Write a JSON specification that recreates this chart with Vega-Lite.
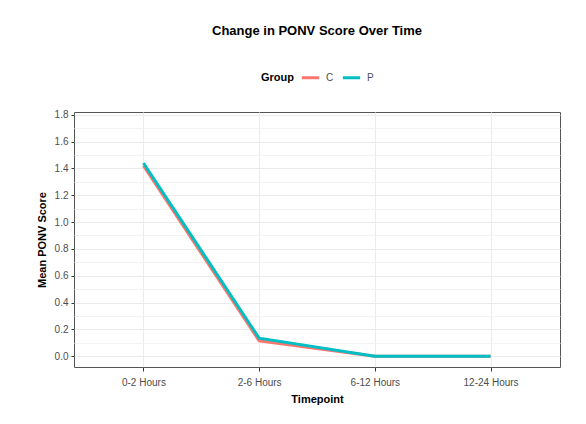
{
  "$schema": "https://vega.github.io/schema/vega-lite/v6.json",
  "width": 486,
  "height": 255,
  "padding": {"left": 36, "top": 25, "right": 25, "bottom": 10},
  "background": "white",
  "title": {
    "text": "Change in PONV Score Over Time",
    "font": "Liberation Sans",
    "fontSize": 13,
    "fontWeight": "bold",
    "color": "#000000",
    "anchor": "middle",
    "frame": "group",
    "offset": 29
  },
  "data": {
    "values": [
      {"Timepoint": "0-2 Hours", "Group": "C", "Score": 1.42},
      {"Timepoint": "2-6 Hours", "Group": "C", "Score": 0.115},
      {"Timepoint": "6-12 Hours", "Group": "C", "Score": 0.0},
      {"Timepoint": "12-24 Hours", "Group": "C", "Score": 0.0},
      {"Timepoint": "0-2 Hours", "Group": "P", "Score": 1.44},
      {"Timepoint": "2-6 Hours", "Group": "P", "Score": 0.135},
      {"Timepoint": "6-12 Hours", "Group": "P", "Score": 0.0},
      {"Timepoint": "12-24 Hours", "Group": "P", "Score": 0.0}
    ]
  },
  "mark": {"type": "line", "strokeWidth": 3},
  "encoding": {
    "x": {
      "field": "Timepoint",
      "type": "ordinal",
      "sort": ["0-2 Hours", "2-6 Hours", "6-12 Hours", "12-24 Hours"],
      "scale": {"type": "point", "padding": 0.6},
      "axis": {
        "title": "Timepoint",
        "labelAngle": 0,
        "grid": true,
        "gridColor": "#EBEBEB",
        "gridWidth": 1,
        "domain": false,
        "tickSize": 4,
        "tickColor": "#333333",
        "labelPadding": 6,
        "labelFont": "Liberation Sans",
        "labelFontSize": 10,
        "labelColor": "#4D4D4D",
        "titleFont": "Liberation Sans",
        "titleFontSize": 11,
        "titleFontWeight": "bold",
        "titleColor": "#000000",
        "titlePadding": 6
      }
    },
    "y": {
      "field": "Score",
      "type": "quantitative",
      "scale": {"domain": [-0.08, 1.82], "nice": false, "zero": false},
      "axis": {
        "title": "Mean PONV Score",
        "values": [0, 0.1, 0.2, 0.3, 0.4, 0.5, 0.6, 0.7, 0.8, 0.9, 1.0, 1.1, 1.2, 1.3, 1.4, 1.5, 1.6, 1.7, 1.8],
        "labelExpr": "round(datum.value*10) % 2 == 1 ? '' : format(datum.value, '.1f')",
        "grid": true,
        "gridColor": {"condition": {"test": "round(datum.value*10) % 2 == 1", "value": "#F3F3F3"}, "value": "#EBEBEB"},
        "gridWidth": 1,
        "tickOpacity": {"condition": {"test": "round(datum.value*10) % 2 == 1", "value": 0}, "value": 1},
        "domain": false,
        "tickSize": 3,
        "tickColor": "#333333",
        "labelPadding": 3,
        "labelFont": "Liberation Sans",
        "labelFontSize": 10,
        "labelColor": "#4D4D4D",
        "titleFont": "Liberation Sans",
        "titleFontSize": 11,
        "titleFontWeight": "bold",
        "titleColor": "#000000",
        "titlePadding": 7
      }
    },
    "color": {
      "field": "Group",
      "type": "nominal",
      "scale": {"domain": ["C", "P"], "range": ["#F8766D", "#00BFC4"]},
      "legend": {
        "orient": "top",
        "direction": "horizontal",
        "title": "Group",
        "titleOrient": "left",
        "titleAnchor": "middle",
        "titleBaseline": "line-top",
        "titleLineHeight": 6,
        "titlePadding": 6,
        "titleFont": "Liberation Sans",
        "titleFontSize": 11,
        "titleFontWeight": "bold",
        "titleColor": "#000000",
        "labelFont": "Liberation Sans",
        "labelFontSize": 10,
        "labelColor": "#4D4D4D",
        "labelOffset": 5,
        "columnPadding": 2,
        "symbolType": "stroke",
        "symbolStrokeWidth": 3,
        "symbolSize": 300,
        "offset": 28
      }
    }
  },
  "config": {
    "view": {"stroke": "#555555", "strokeWidth": 1},
    "legend": {"layout": {"top": {"anchor": "middle"}}}
  }
}
